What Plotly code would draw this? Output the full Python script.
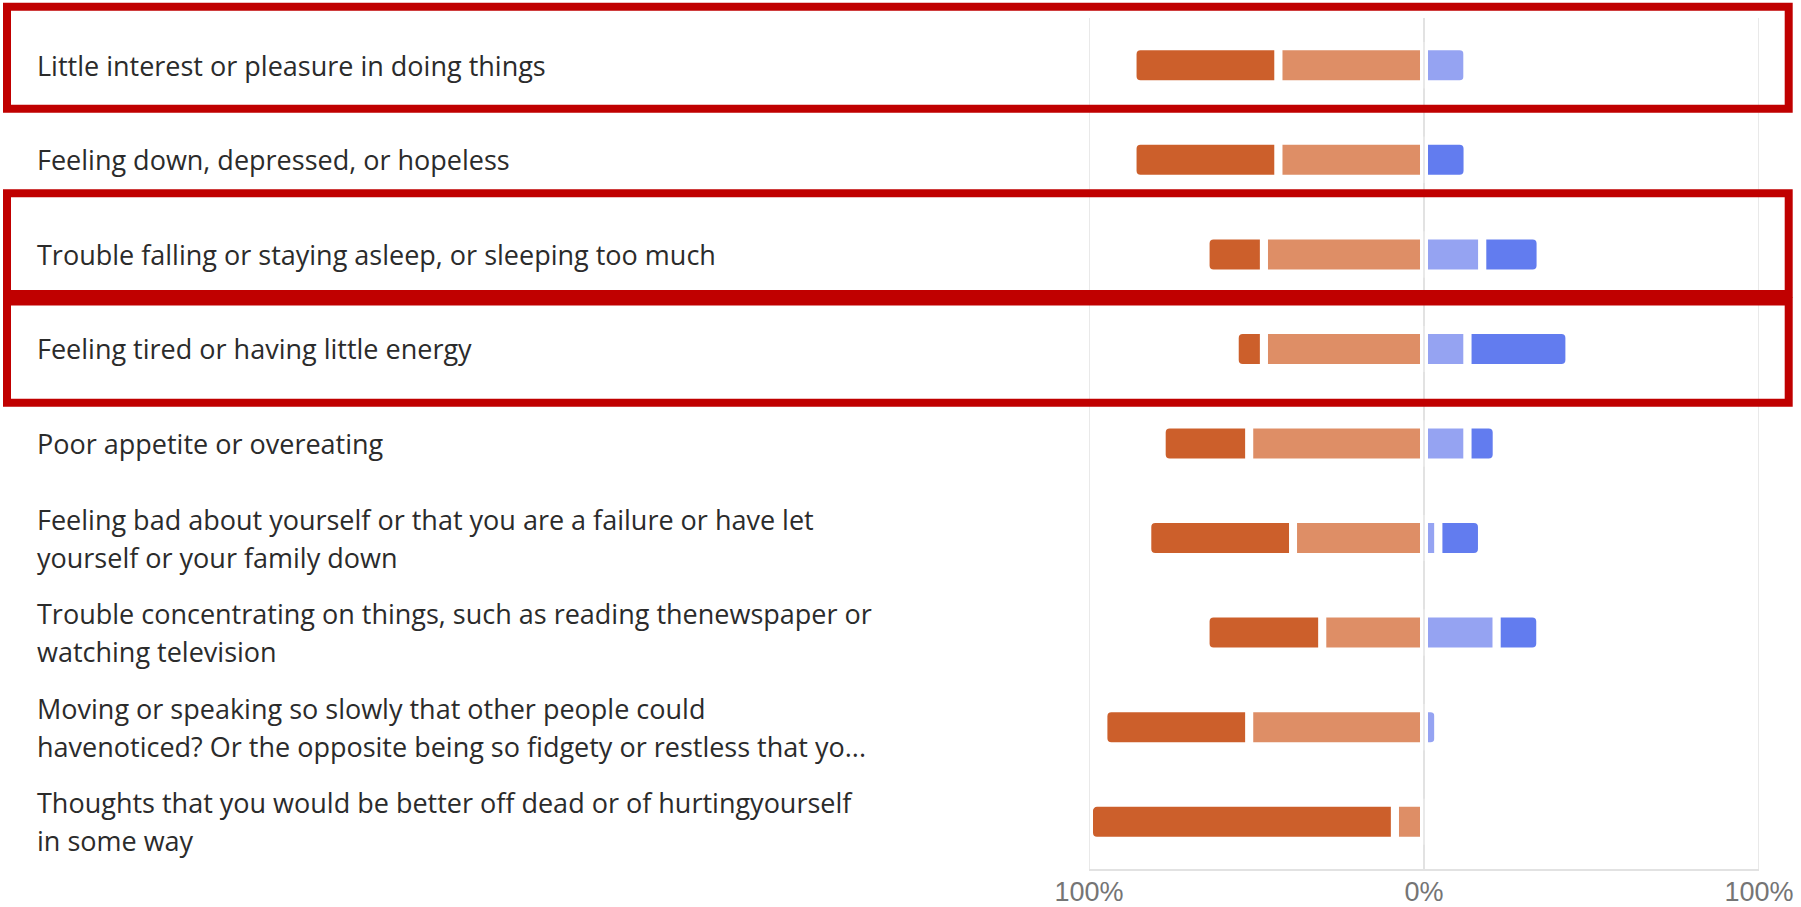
import plotly.graph_objects as go

# ---------------- data ----------------
categories = [
    "Little interest or pleasure in doing things",
    "Feeling down, depressed, or hopeless",
    "Trouble falling or staying asleep, or sleeping too much",
    "Feeling tired or having little energy",
    "Poor appetite or overeating",
    "Feeling bad about yourself or that you are a failure or have let<br>yourself or your family down",
    "Trouble concentrating on things, such as reading thenewspaper or<br>watching television",
    "Moving or speaking so slowly that other people could<br>havenoticed? Or the opposite being so fidgety or restless that yo...",
    "Thoughts that you would be better off dead or of hurtingyourself<br>in some way",
]
not_at_all = [43.5, 43.5, 17.4, 8.7, 26.1, 43.5, 34.8, 43.5, 91.3]
several_days = [43.5, 43.5, 47.8, 47.8, 52.2, 39.1, 30.4, 52.2, 8.7]
more_than_half = [13.0, 0.0, 17.4, 13.0, 13.0, 4.3, 21.7, 4.3, 0.0]
nearly_every_day = [0.0, 13.0, 17.4, 30.4, 8.7, 13.0, 13.0, 0.0, 0.0]

tick_vals = [-100, 0, 100]
tick_text = ["100%", "0%", "100%"]

# ---------------- style ----------------
W, H = 1801, 907
ML, MR, MT, MB = 1089, 42, 18, 38
PW, PH = W - ML - MR, H - MT - MB

C_DARK_OR = "#CC5F2B"
C_LIGHT_OR = "#DE8E66"
C_LIGHT_BL = "#95A3F2"
C_DARK_BL = "#627CEF"
GRID = "#e2e2e2"
RED = "#C00000"
LABEL_SIZE = 27
LINE_GAP = 38


def px_x(px):
    return (px - ML) / PW


def px_y(py):
    return (H - MB - py) / PH


line = dict(color="white", width=8)

fig = go.Figure()
fig.add_trace(go.Bar(name="Several days", y=categories, x=[-v for v in several_days],
                     orientation="h", marker=dict(color=C_LIGHT_OR, line=line)))
fig.add_trace(go.Bar(name="Not at all", y=categories, x=[-v for v in not_at_all],
                     orientation="h", marker=dict(color=C_DARK_OR, line=line)))
fig.add_trace(go.Bar(name="More than half the days", y=categories, x=more_than_half,
                     orientation="h", marker=dict(color=C_LIGHT_BL, line=line)))
fig.add_trace(go.Bar(name="Nearly every day", y=categories, x=nearly_every_day,
                     orientation="h", marker=dict(color=C_DARK_BL, line=line)))

shapes = []
# vertical grid lines drawn above bars (so white bar outlines do not cut them)
for v in tick_vals:
    shapes.append(dict(type="line", xref="x", yref="paper", x0=v, x1=v, y0=0, y1=1,
                       line=dict(color=GRID, width=1.5), layer="above"))

# red highlight boxes (pixel based)
boxes = [(7, 6.7, 1788.7, 108.7), (7, 193.3, 1788.7, 294.0), (7, 301.5, 1788.7, 402.7)]
for x0, y0, x1, y1 in boxes:
    shapes.append(dict(type="rect", xref="paper", yref="paper",
                       x0=px_x(x0), x1=px_x(x1), y0=px_y(y0), y1=px_y(y1),
                       line=dict(color=RED, width=8), fillcolor="rgba(0,0,0,0)", layer="above"))

annotations = []
for c in categories:
    parts = c.split("<br>")
    n = len(parts)
    for k, part in enumerate(parts):
        shift = ((n - 1) / 2 - k) * LINE_GAP
        annotations.append(dict(xref="paper", yref="y", x=px_x(35), y=c, text=part,
                                xanchor="left", yanchor="middle", align="left", showarrow=False,
                                yshift=shift,
                                font=dict(family="Open Sans", size=LABEL_SIZE, color="#2b2b2b")))

fig.update_layout(
    width=W, height=H,
    margin=dict(l=ML, r=MR, t=MT, b=MB, pad=0, autoexpand=False),
    paper_bgcolor="white", plot_bgcolor="white",
    barmode="relative", bargap=0.598, barcornerradius=8,
    showlegend=False,
    xaxis=dict(range=[-100, 100], tickvals=tick_vals, ticktext=tick_text,
               showgrid=True, gridcolor=GRID, gridwidth=1.5, zeroline=False,
               showline=True, linecolor=GRID, linewidth=1.5, ticks="",
               tickfont=dict(family="Liberation Sans", size=27, color="#757575"),
               ticklabelstandoff=-2, automargin=False, fixedrange=True),
    yaxis=dict(type="category", categoryorder="array", categoryarray=categories,
               range=[len(categories) - 0.5, -0.5], showticklabels=False,
               showgrid=False, zeroline=False, showline=False, automargin=False,
               fixedrange=True),
    shapes=shapes, annotations=annotations,
)

fig.write_html("out.html")
